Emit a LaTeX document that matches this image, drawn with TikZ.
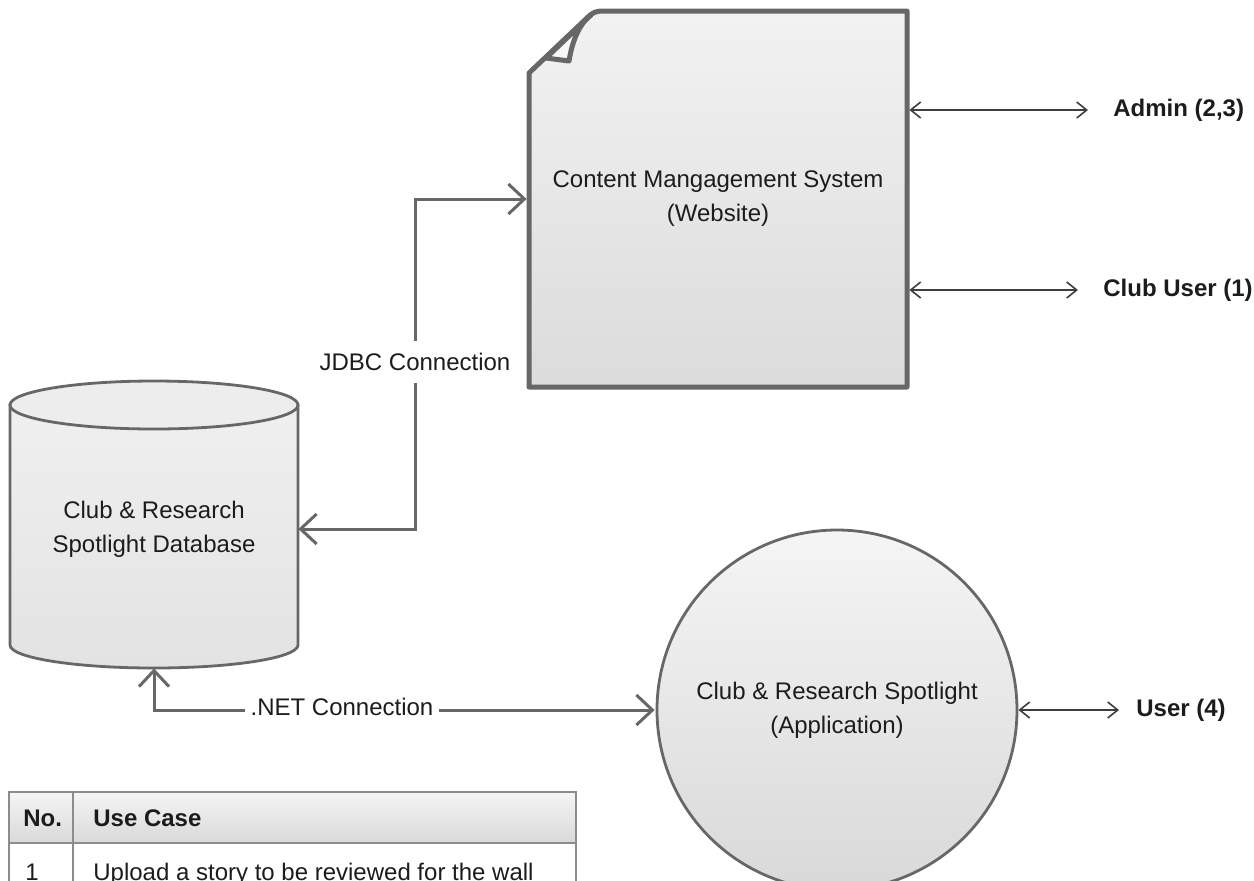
\documentclass[tikz,border=0pt]{standalone}
\usepackage{fontspec}
\setmainfont{Liberation Sans}
\usetikzlibrary{arrows.meta}
\definecolor{edge}{HTML}{676767}
\definecolor{ink}{HTML}{1C1C1C}
\definecolor{rule}{HTML}{8C8C8C}
\begin{document}
\begin{tikzpicture}[x=0.5pt,y=-0.5pt,
  every node/.style={font=\fontsize{12}{17}\selectfont, text=ink},
  conn/.style={draw=edge, line width=1.5pt, line join=miter,
    arrows={Straight Barb[length=8pt,width=15pt]-Straight Barb[length=8pt,width=15pt]}},
  actorlink/.style={draw=ink!85, line width=0.8pt,
    arrows={Straight Barb[length=5pt,width=8pt]-Straight Barb[length=5pt,width=8pt]}},
  actor/.style={font=\fontsize{12}{17}\selectfont\bfseries, anchor=west, inner sep=0pt},
  connlabel/.style={fill=white, inner xsep=3pt, inner ysep=6pt},
  box/.style={draw=none, align=center, inner sep=0pt}
]
\useasboundingbox (0,0) rectangle (1254,880);

% ---- Content management system: page with a folded corner ----
\path[draw=edge, line width=2.5pt, line join=round, top color=white!95!black, bottom color=white!86!black]
  (529,387) -- (529,73) -- (588,17) .. controls (592,13) and (596,11) .. (602,11)
  -- (907,11) -- (907,387) -- cycle;
\path[draw=edge, line width=2.5pt, line join=round, fill=white!97!black]
  (546,58) -- (569,61) .. controls (572,42) and (579,24) .. (591,15) -- cycle;
\node[box, minimum width=189pt, minimum height=188pt] (cms) at (718,199)
  {Content Mangagement System\\(Website)};

% ---- Database cylinder ----
\path[draw=edge, line width=1.4pt, top color=white!94!black, bottom color=white!89!black]
  (10,405) -- (10,645) arc[start angle=180, end angle=0, x radius=144, y radius=23]
  -- (298,405) -- cycle;
\path[draw=edge, line width=1.4pt, fill=white!93!black]
  (154,405) ellipse[x radius=144, y radius=24];
\node[box, minimum width=144pt, minimum height=139pt] (db) at (154,529)
  {Club \& Research\\Spotlight Database};

% ---- Application ----
\node[circle, draw=edge, line width=1.4pt, minimum size=180pt, align=center,
  top color=white!96!black, bottom color=white!85!black] (app) at (837,710)
  {Club \& Research Spotlight\\(Application)};

% ---- Actors ----
\node[actor] (admin) at (1113,110) {Admin (2,3)};
\node[actor] (cuser) at (1103,290) {Club User (1)};
\node[actor] (user)  at (1136,710) {User (4)};

\draw[actorlink] ([xshift=1pt]cms.east |- admin.west) -- ([xshift=-12.5pt]admin.west);
\draw[actorlink] ([xshift=1pt]cms.east |- cuser.west) -- ([xshift=-12.5pt]cuser.west);
\draw[actorlink] (app.east) -- ([xshift=-8.5pt]user.west);

% ---- Connections ----
\coordinate (jbend) at (415,362);
\draw[conn] ([xshift=-1pt]cms.west) -| (jbend) |- (db.east);
\node[connlabel] (jdbc) at (jbend) {JDBC Connection};

\draw[conn] (db.south) |- ([xshift=-0.5pt]app.west);
\node[connlabel] (net) at (342,707) {.NET Connection};

% ---- Use case table ----
\path[draw=rule, line width=1.2pt, top color=white!96!black, bottom color=white!85!black]
  (9,792) rectangle (576,843);
\draw[rule, line width=1.2pt] (9,843) -- (9,900) (576,843) -- (576,900);
\draw[rule, line width=1.2pt] (73,792) -- (73,900);
\node[font=\fontsize{12}{17}\selectfont\bfseries, anchor=west, inner sep=0pt] (hno) at (23,818) {No.};
\node[font=\fontsize{12}{17}\selectfont\bfseries, anchor=west, inner sep=0pt] (huse) at (93,818) {Use Case};
\node[anchor=base west, inner sep=0pt] (rno) at (25,880) {1};
\node[anchor=base west, inner sep=0pt] (ruse) at (93,880) {Upload a story to be reviewed for the wall};
\end{tikzpicture}
\end{document}
